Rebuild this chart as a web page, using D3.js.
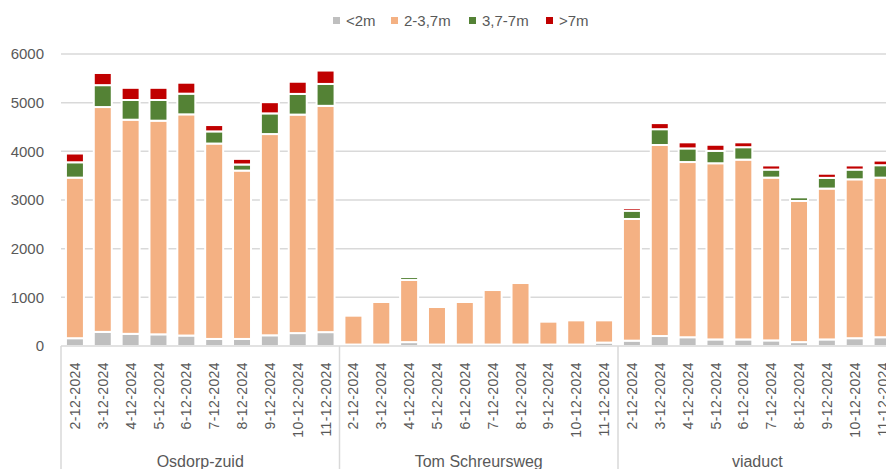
<!DOCTYPE html>
<html>
<head>
<meta charset="utf-8">
<script src="https://cdn.jsdelivr.net/npm/d3@7"></script>
<style>
  html, body { margin: 0; padding: 0; background: #fff; overflow: hidden; }
  svg { display: block; font-family: "Liberation Sans", Arial, sans-serif; }
</style>
</head>
<body>
<svg id="chart" width="886" height="469"></svg>
<script>
const dates = ["2-12-2024","3-12-2024","4-12-2024","5-12-2024","6-12-2024","7-12-2024","8-12-2024","9-12-2024","10-12-2024","11-12-2024"];
const locations = ["Osdorp-zuid","Tom Schreursweg","viaduct"];
const seriesNames = ["<2m","2-3,7m","3,7-7m",">7m"];
const seriesColors = ["#bfbfbf","#f4b183","#548235","#c00000"];
const yTicks = [0,1000,2000,3000,4000,5000,6000];

// values per bar: Osdorp-zuid (10), Tom Schreursweg (10), viaduct (10)
const lt2m = [160,290,250,240,215,145,145,220,265,285,
              30,30,80,30,30,30,30,30,30,70,
              110,205,180,135,135,115,80,135,160,180];
const m2to37 = [3300,4620,4400,4390,4545,4015,3460,4135,4490,4650,
                593,874,1276,771,874,1120,1264,470,497,457,
                2500,3925,3600,3620,3695,3345,2900,3100,3265,3280];
const m37to7 = [315,450,405,425,425,250,125,425,425,450,
                0,0,60,0,0,0,0,0,0,0,
                170,325,280,255,255,165,75,220,200,255];
const gt7m = [180,250,250,250,225,130,115,230,250,275,
              0,0,0,0,0,0,0,0,0,0,
              55,125,125,125,100,85,0,85,85,95];

const rows = [];
locations.forEach((loc, li) => dates.forEach((dt, di) => {
  const i = li * dates.length + di;
  rows.push({ key: i, loc, date: dt, "<2m": lt2m[i], "2-3,7m": m2to37[i], "3,7-7m": m37to7[i], ">7m": gt7m[i] });
}));

const svg = d3.select("#chart");
const plotLeft = 61, plotRight = 896.5, plotTop = 54, plotBottom = 346;

const x = d3.scaleBand().domain(rows.map(r => r.key)).range([plotLeft, plotRight])
  .paddingInner(0.354).paddingOuter(0.177);
const y = d3.scaleLinear().domain([0, 6000]).range([plotBottom, plotTop]);
const step = x.step();

// gridlines
svg.append("g").selectAll("line").data(yTicks.filter(t => t > 0)).join("line")
  .attr("x1", plotLeft).attr("x2", plotRight)
  .attr("y1", d => y(d)).attr("y2", d => y(d))
  .attr("stroke", "#d9d9d9").attr("stroke-width", 1.5);

// y labels
svg.append("g").selectAll("text").data(yTicks).join("text")
  .attr("x", 44).attr("y", d => y(d)).attr("dy", "0.36em")
  .attr("text-anchor", "end").attr("font-size", 15).attr("fill", "#595959")
  .text(d => d);

// bars
const stacked = d3.stack().keys(seriesNames)(rows);
svg.append("g").selectAll("g").data(stacked).join("g")
  .attr("fill", (d, i) => seriesColors[i])
  .selectAll("rect").data(d => d.filter(s => s[1] - s[0] > 0)).join("rect")
  .attr("x", d => x(d.data.key))
  .attr("width", x.bandwidth())
  .attr("y", d => y(d[1]))
  .attr("height", d => y(d[0]) - y(d[1]))
  .attr("stroke", "#fff").attr("stroke-width", 2);

// x axis line
svg.append("line").attr("x1", plotLeft).attr("x2", plotRight)
  .attr("y1", plotBottom).attr("y2", plotBottom)
  .attr("stroke", "#d9d9d9").attr("stroke-width", 1.5);

// group separators
const seps = d3.range(locations.length + 1).map(g => plotLeft + g * dates.length * step);
svg.append("g").selectAll("line").data(seps).join("line")
  .attr("x1", d => d).attr("x2", d => d).attr("y1", plotBottom).attr("y2", 469)
  .attr("stroke", "#d9d9d9").attr("stroke-width", 1.5);

// tick labels
svg.append("g").selectAll("text").data(rows).join("text")
  .attr("transform", d => `translate(${x(d.key) + x.bandwidth() / 2},362) rotate(-90)`)
  .attr("text-anchor", "end").attr("dy", "0.36em")
  .attr("font-size", 14).attr("letter-spacing", "0.4px").attr("fill", "#595959")
  .text(d => d.date);

// group labels
svg.append("g").selectAll("text").data(locations).join("text")
  .attr("x", (d, i) => plotLeft + (i + 0.5) * dates.length * step)
  .attr("y", 467).attr("text-anchor", "middle")
  .attr("font-size", 16).attr("fill", "#595959")
  .text(d => d);

// legend
const legendX = [333, 391, 469, 546];
const lg = svg.append("g").selectAll("g").data(seriesNames).join("g")
  .attr("transform", (d, i) => `translate(${legendX[i]},0)`);
lg.append("rect").attr("x", 0).attr("y", 17).attr("width", 7).attr("height", 7)
  .attr("fill", (d, i) => seriesColors[i]);
lg.append("text").attr("x", 13).attr("y", 25.5).attr("font-size", 15)
  .attr("fill", "#595959").text(d => d);
</script>
</body>
</html>
